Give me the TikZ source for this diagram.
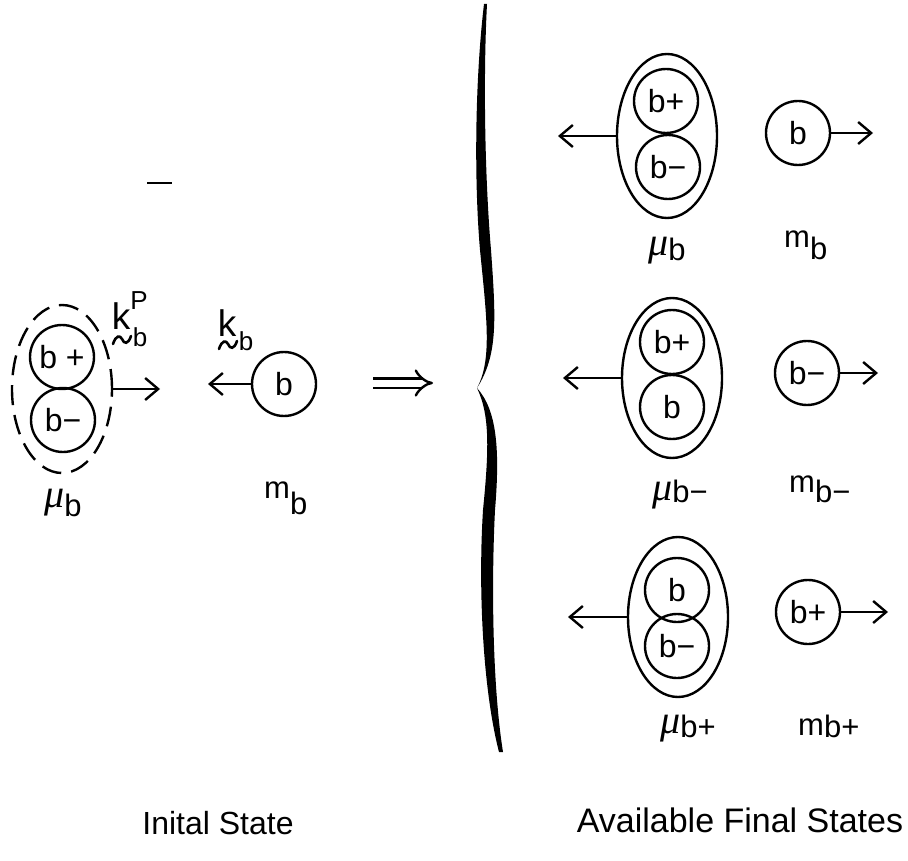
\documentclass[tikz,border=0pt]{standalone}
\usepackage{fontspec}
\setmainfont{Liberation Sans}
\newfontfamily\mufontfam{Liberation Serif}
\usetikzlibrary{arrows.meta,shapes.geometric}
\newcommand\mylab[3]{#1\raisebox{-#3pt}{#2}}
\newcommand\mymu{{\mufontfam\itshape\fontsize{40}{40}\selectfont μ}}
\begin{document}
\begin{tikzpicture}[x=1pt,y=-1pt, line width=2.4pt,
 circ/.style={circle, draw, minimum size=64pt, inner sep=0pt, font=\fontsize{32}{32}\selectfont},
 ell/.style={ellipse, draw, inner sep=0pt},
 arr/.style={-{Straight Barb[length=13pt,width=22pt]}},
 lab/.style={anchor=base west, inner sep=0pt, font=\fontsize{31}{31}\selectfont},
 ktxt/.style={inner sep=0pt, font=\fontsize{37}{37}\selectfont},
 ksmall/.style={inner sep=0pt, font=\fontsize{26}{26}\selectfont},
 tld/.style={line width=2.6pt, line cap=round}]
\useasboundingbox (0,0) rectangle (908,861);

% stray mark
\draw[line width=2pt] (147,183) -- (172,183);

% ---------- initial state ----------
\node[ell, dash pattern=on 20pt off 10pt, minimum width=100pt, minimum height=168pt] (de) at (62,389) {};
\node[circ] (ip) at (62,357) {b +};
\node[circ] (im) at (63,420) {b−};
\coordinate (ia) at (160,389);
\draw[arr] (de.east) -- (ia);

\node[circ] (ib) at (284,384) {b};
\coordinate (ibt) at (208,384);
\draw[arr] (ib.west) -- (ibt);

% k^P_b (tilde under k)
\node[ktxt] (k1) at (121,316) {k};
\node[ksmall] (k1p) at (139,301) {P};
\node[ksmall] (k1b) at (140,337) {b};
\draw[tld] (113,344) .. controls (116,335) and (120,335) .. (122,339)
           .. controls (124,344) and (128,345) .. (131,336);
% k_b
\node[ktxt] (k2) at (227,323) {k};
\node[ksmall] (k2b) at (246,341) {b};
\draw[tld] (219,349) .. controls (222,340) and (226,340) .. (228,344)
           .. controls (230,349) and (234,350) .. (237,341);

\node[lab] (mu0) at (43,507) {\mylab{\mymu}{b}{9}};
\node[lab] (m0) at (263,498) {\mylab{m}{b}{16}};

% implies arrow
\coordinate (da1) at (373,383);
\coordinate (da2) at (433,383);
\draw[line width=2.4pt, double, double distance=7pt, -{Implies}] (da1) -- (da2);

% brace
\fill (484,4) .. controls (475,80) and (474,180) .. (480,250)
      .. controls (487,320) and (492,360) .. (477,388)
      .. controls (490,415) and (489,450) .. (483,510)
      .. controls (478,590) and (483,690) .. (499,752)
      -- (503,752)
      .. controls (493,690) and (491,590) .. (495,510)
      .. controls (500,450) and (497,410) .. (477,388)
      .. controls (498,355) and (496,320) .. (491,250)
      .. controls (485,180) and (483,80) .. (487,4) -- cycle;

% ---------- final states ----------
% row 1
\node[ell, minimum width=100pt, minimum height=164pt] (e1) at (667,136) {};
\node[circ] (e1a) at (666,101) {b+};
\node[circ] (e1b) at (668,167) {b−};
\coordinate (e1l) at (558,136);
\draw[arr] (e1.west) -- (e1l);
\node[circ] (r1) at (798,133) {b};
\coordinate (r1r) at (873,133);
\draw[arr] (r1.east) -- (r1r);
\node[lab] (mu1) at (647,256) {\mylab{\mymu}{b}{5}};
\node[lab] (m1) at (783,248) {\mylab{m}{b}{12}};

% row 2
\node[ell, minimum width=100pt, minimum height=160pt] (e2) at (672,378) {};
\node[circ] (e2a) at (672,342) {b+};
\node[circ] (e2b) at (672,407) {b};
\coordinate (e2l) at (563,378);
\draw[arr] (e2.west) -- (e2l);
\node[circ] (r2) at (807,373) {b−};
\coordinate (r2r) at (878,373);
\draw[arr] (r2.east) -- (r2r);
\node[lab] (mu2) at (651,500) {\mylab{\mymu}{b−}{2}};
\node[lab] (m2) at (788,492) {\mylab{m}{b−}{10}};

% row 3
\node[ell, minimum width=100pt, minimum height=160pt] (e3) at (678,617) {};
\node[circ] (e3a) at (677,590) {b};
\node[circ] (e3b) at (677,646) {b−};
\coordinate (e3l) at (568,617);
\draw[arr] (e3.west) -- (e3l);
\node[circ] (r3) at (808,612) {b+};
\coordinate (r3r) at (888,612);
\draw[arr] (r3.east) -- (r3r);
\node[lab] (mu3) at (659,733) {\mylab{\mymu}{b+}{4}};
\node[lab] (m3) at (797,735) {\mylab{m}{b+}{2}};

% titles
\node[inner sep=0pt, font=\fontsize{32}{32}\selectfont] (tinit) at (218,823) {Inital State};
\node[inner sep=0pt, font=\fontsize{34}{34}\selectfont] (tfin) at (740,820) {Available Final States};
\end{tikzpicture}
\end{document}
